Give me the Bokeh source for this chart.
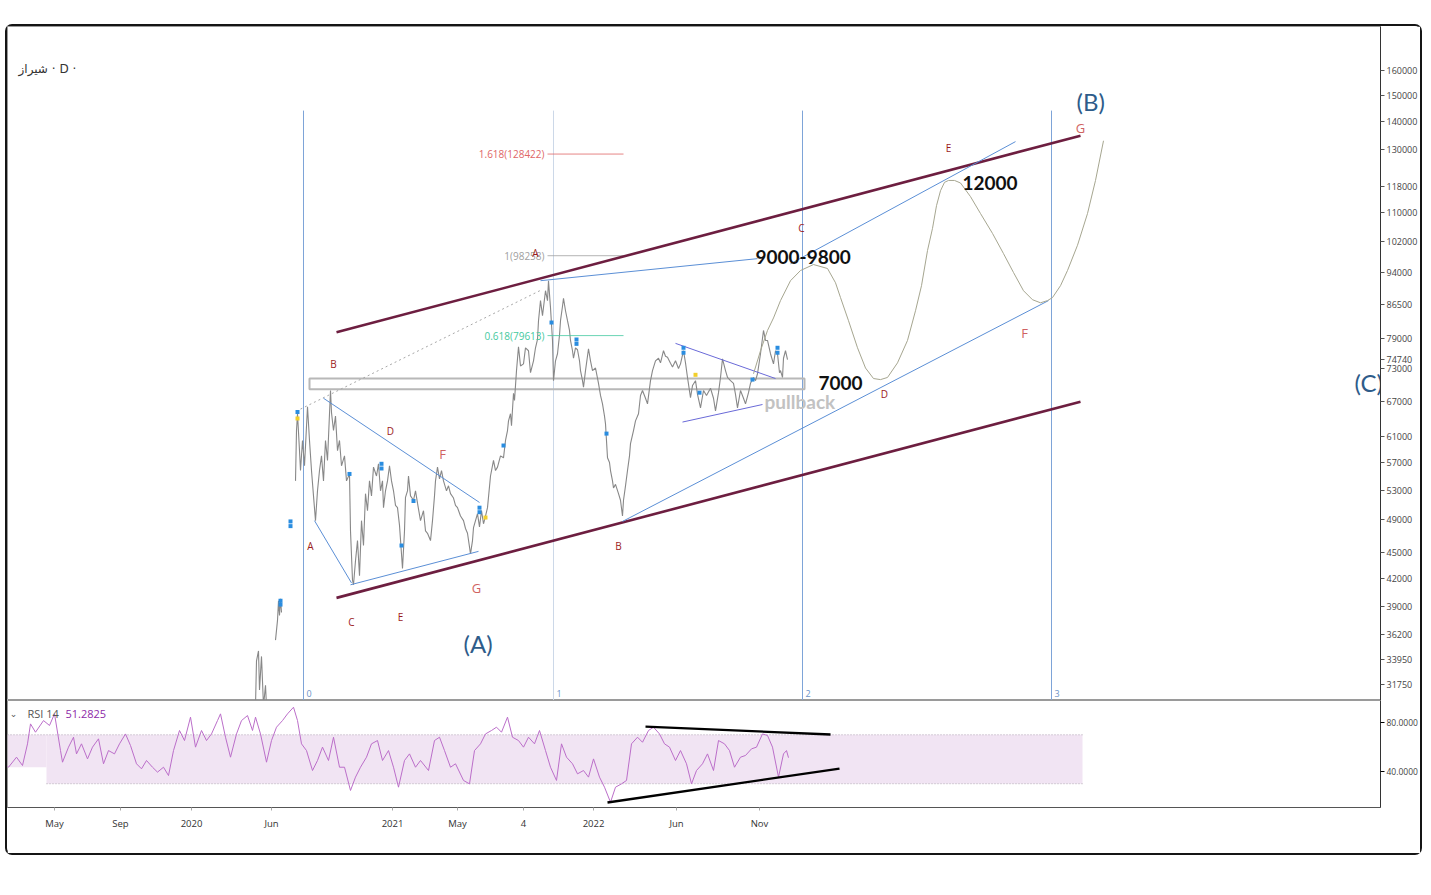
from bokeh.plotting import figure
from bokeh.models import Range1d, FixedTicker, NumeralTickFormatter
from bokeh.layouts import column
from bokeh.embed import file_html
from bokeh.resources import INLINE
from bokeh.core.properties import value

nan = float("nan")

# ---------------- price path (bar position, close in rials) ----------------
bar_x = [255, 256, 258, 259, 261, 263, 265, 266, 270,
         275, 277, 278, 279, 280, 281, 288,
         295, 296, 297, 299, 300, 302, 304, 307, 309, 311, 313, 315, 317, 319, 321, 323, 325, 327,
         330, 331, 333, 335, 337, 339, 341, 344, 346, 349, 350, 352, 353, 355, 357, 359, 361, 363,
         365, 367, 369, 371, 373, 376, 378, 380, 382, 383, 385, 387, 389, 391, 393, 395, 397, 399,
         402, 404, 405, 407, 408, 410, 413, 415, 417, 420, 423, 425, 427, 430, 432, 434, 435, 437,
         439, 441, 443, 446, 448, 450, 453, 455, 457, 460, 463, 465, 467, 470, 472, 473, 475, 477,
         479, 481, 483, 485, 487, 490, 493, 495, 497, 500, 503, 505, 507, 508, 510, 511, 513, 514,
         516, 518, 520, 523, 525, 528, 530, 533, 535, 537, 538, 540, 542, 545, 547, 548, 550, 552,
         553, 555, 557, 559, 560, 562, 563, 565, 567, 569, 570, 572, 573, 575, 577, 579, 580, 582,
         583, 585, 588, 590, 592, 595, 598, 600, 602, 604, 605, 607, 609, 610, 612, 613, 615, 618,
         620, 622, 623, 625, 627, 629, 630, 633, 635, 638, 640, 642, 645, 647, 650, 652, 655, 658,
         660, 663, 665, 667, 670, 672, 675, 678, 680, 683, 685, 687, 690, 692, 695, 697, 700, 703,
         706, 710, 713, 715, 718, 720, 722, 725, 727, 730, 733, 735, 737, 740, 743, 745, 748, 750,
         753, 755, 757, 760, 763, 765, 767, 770, 773, 775, 777, 779, 780, 782, 783, 785, 787]
close = [30000, 33800, 34700, 31300, 34200, 30000, 31700, 30000, nan,
         35700, 37600, 39600, 38100, 39800, 38400, nan,
         54300, 62000, 64800, 58800, 55800, 60400, 56500, 66000, 60400, 55800, 52200, 48900, 52900, 55800, 58000, 54300, 60400, 57300,
         68900, 65000, 62000, 64400, 58800, 60400, 56500, 58000, 54300, 55300, 47600, 41800, 41300, 44000, 46400, 42300, 48900, 45800,
         52500, 50200, 54300, 52200, 56300, 55000, 56800, 52900, 54300, 50600, 52900, 54300, 56500, 54300, 52900, 50900, 50600, 48300,
         43100, 47600, 52000, 52900, 55000, 52200, 51600, 52900, 51200, 48900, 50200, 47600, 47300, 46400, 48900, 52200, 54300, 56300,
         54600, 55800, 54300, 52900, 53600, 52500, 51900, 50900, 50600, 49500, 48900, 47900, 47300, 44800, 46400, 48000, 48900, 49800,
         48100, 50200, 48500, 49500, 50600, 55000, 57300, 55800, 56300, 58000, 57700, 60400, 62000, 63600, 64800, 62800, 68400, 67100,
         72600, 77300, 73500, 73900, 77100, 76500, 72200, 74500, 77100, 78800, 82800, 87300, 83900, 89600, 87300, 92000, 85700, 78600,
         70700, 74500, 75900, 79700, 82800, 86000, 87800, 85000, 82800, 80700, 78600, 76500, 75000, 77100, 76700, 74500, 72600, 70700,
         69500, 72600, 76900, 74500, 72600, 73100, 70200, 68000, 66500, 64400, 63100, 57700, 57000, 55800, 54300, 53300, 53800, 52500,
         51600, 49500, 51600, 53600, 55800, 58000, 59900, 62000, 63600, 64800, 68000, 68900, 67500, 66500, 70700, 72600, 74500, 75000,
         74100, 76500, 75400, 75200, 74000, 73300, 74500, 73000, 73900, 76500, 74100, 71300, 67600, 69800, 70700, 68200, 65800, 68900,
         68000, 69300, 67500, 65300, 68500, 71300, 74900, 72600, 71300, 70700, 70200, 68200, 65800, 68900, 67500, 66500, 68500, 70200,
         71300, 70700, 72000, 75900, 80700, 78600, 78600, 75900, 73900, 76500, 75900, 72200, 72600, 71300, 75000, 76500, 74740]
last_price = 74740
symbol_title = "شیراز · D ·"

price_ticks = [160000, 150000, 140000, 130000, 118000, 110000, 102000, 94000, 86500, 79000, 73000,
               67000, 61000, 57000, 53000, 49000, 45000, 42000, 39000, 36200, 33950, 31750]

date_tick_pos = [54, 120, 191, 271, 392, 457, 523, 593, 676, 759]
date_tick_lbl = ["May", "Sep", "2020", "Jun", "2021", "May", "4", "2022", "Jun", "Nov"]

# ---------------- RSI 14 ----------------
rsi_x = [0, 8, 16, 22, 27, 30, 35, 43, 49, 54, 60, 62, 68, 73, 76, 81, 87, 92, 98, 103, 108, 114, 119,
         125, 130, 136, 141, 146, 152, 157, 163, 168, 173, 179, 184, 190, 195, 201, 206, 211, 217, 220,
         225, 230, 236, 241, 247, 252, 255, 260, 266, 271, 276, 282, 287, 293, 297, 301, 306, 312, 317,
         322, 328, 333, 339, 344, 350, 355, 360, 366, 371, 377, 382, 388, 393, 398, 404, 409, 415, 420,
         428, 434, 439, 444, 450, 455, 463, 469, 474, 480, 485, 491, 496, 501, 507, 512, 518, 523, 528,
         534, 539, 545, 550, 556, 561, 566, 572, 577, 583, 588, 593, 599, 604, 610, 615, 621, 626, 631,
         637, 642, 648, 653, 659, 664, 669, 675, 680, 686, 691, 696, 702, 707, 713, 718, 724, 729, 734,
         740, 745, 751, 756, 762, 767, 772, 778, 783, 786, 788]
rsi_v = [49.0, 43.5, 51.7, 44.9, 62.6, 78.9, 72.1, 81.6, 77.6, 87.1, 57.1, 47.6, 59.9, 68.0, 54.4, 62.6, 50.3, 59.9, 66.7, 46.3, 57.1, 54.4, 62.6,
         70.7, 61.2, 46.3, 42.2, 49.0, 43.5, 39.5, 43.5, 36.7, 57.1, 73.5, 65.3, 84.4, 59.9, 73.5, 65.3, 70.7, 81.6, 87.1,
         68.0, 51.7, 70.7, 81.6, 85.7, 73.5, 84.4, 70.7, 47.6, 65.3, 76.2, 81.6, 87.1, 92.5, 81.6, 62.6, 57.1, 40.8, 49.0,
         59.9, 49.0, 68.0, 43.5, 43.5, 24.5, 35.4, 43.5, 51.7, 62.6, 65.3, 49.0, 57.1, 43.5, 27.2, 49.0, 54.4, 43.5, 49.0,
         40.8, 65.3, 68.0, 57.1, 43.5, 46.3, 32.7, 29.9, 57.1, 62.6, 70.7, 73.5, 76.2, 72.1, 84.4, 68.0, 65.3, 59.9, 68.0,
         62.6, 73.5, 57.1, 43.5, 32.7, 62.6, 51.7, 46.3, 38.1, 40.8, 35.4, 50.3, 35.4, 27.2, 14.9, 27.2, 29.9, 32.7, 62.6,
         68.0, 63.9, 73.5, 76.2, 70.7, 62.6, 59.9, 49.0, 57.1, 46.3, 29.9, 40.8, 46.3, 54.4, 40.8, 65.3, 62.6, 57.1, 43.5,
         51.7, 53.1, 58.5, 59.9, 70.7, 69.4, 59.9, 35.4, 54.4, 57.1, 51.3]
rsi_last = "51.2825"
rsi_ticks = [80, 40]
rsi_upper, rsi_lower = 70, 30

# RSI triangle
rsi_tl_x0 = [645, 607]
rsi_tl_y0 = [76.7, 14.7]
rsi_tl_x1 = [830, 839]
rsi_tl_y1 = [70.2, 42.4]

# ---------------- drawings ----------------
fib_lbl = ["1.618(128422)", "1(98258)", "0.618(79613)"]
fib_price = [128422, 98258, 79613]
fib_colors = ["#e06666", "#a0a0a0", "#45c9a0"]

fib_time_x = [303, 553, 802, 1051]
fib_time_lbl = ["0", "1", "2", "3"]
fib_time_colors = ["#7ea4d8", "#ccd8e8", "#7ea4d8", "#7ea4d8"]

chan_x0 = [336, 336]
chan_y0 = [80300, 39900]
chan_x1 = [1080, 1080]
chan_y1 = [134800, 66900]

tl_x0 = [540, 790, 622, 314, 350, 323]
tl_y0 = [92000, 96200, 48800, 48900, 41300, 67500]
tl_x1 = [757, 1015, 1048, 351, 478, 479]
tl_y1 = [97500, 132700, 87300, 41500, 45100, 51300]

tri_x0 = [675, 682]
tri_y0 = [78000, 63400]
tri_x1 = [775, 762]
tri_y1 = [71100, 66400]

dotted_x = [300, 541]
dotted_y = [65600, 89800]

zone_left, zone_right, zone_bottom, zone_top = 309, 804, 69100, 71100

proj_x = [753, 760, 767, 773, 780, 790, 800, 813, 827, 835, 840, 848, 857, 865, 873, 880, 887, 897, 907, 915,
          921, 927, 932, 936, 940, 944, 948, 954, 960, 970, 980, 992, 1003, 1013, 1023, 1032, 1040, 1047, 1052,
          1060, 1067, 1077, 1087, 1095, 1103]
proj_y = [72000, 76500, 80700, 83400, 87300, 92000, 94500, 96000, 95000, 91500, 88000, 82800, 77100, 73100, 71100,
          70900, 71300, 74100, 78600, 85000, 90800, 99600, 105600, 112100, 116600, 119200, 119800, 119800, 119000,
          114800, 109800, 104200, 98800, 94000, 89600, 87500, 86800, 87300, 88000, 90800, 94500, 101000, 109800,
          119800, 133000]

wave_x = [333, 390, 310, 351, 400, 618, 535, 801, 884, 948]
wave_y = [73900, 62000, 45800, 37400, 37900, 45800, 98900, 105800, 68200, 130600]
wave_t = ["B", "D", "A", "C", "E", "B", "A", "C", "D", "E"]
wave2_x = [442, 476, 1024, 1080]
wave2_y = [58300, 41000, 80100, 137700]
wave2_t = ["F", "G", "F", "G"]

target_x = [755, 962, 818]
target_y = [98000, 118900, 70300]
target_t = ["9000-9800", "12000", "7000"]
pull_x, pull_y, pull_t = [764], [66900], ["pullback"]

degree_x = [463, 1076, 1354]
degree_y = [35400, 147400, 70300]
degree_t = ["(A)", "(B)", "(C)"]

blue_dot_x = [280, 280, 290, 290, 297, 349, 381, 381, 401, 413, 479, 479, 503, 551, 576, 576, 606, 683, 683, 699, 752, 777, 777]
blue_dot_y = [39600, 39200, 48800, 48200, 65100, 55300, 56800, 56100, 45800, 51500, 50600, 50000, 59600, 82400, 78800,
              77900, 61500, 77100, 76100, 68500, 70900, 77100, 76100]
yel_dot_x = [297, 485, 695]
yel_dot_y = [64000, 49300, 71800]

# ---------------- main price pane ----------------
p = figure(frame_width=1373, frame_height=674, x_range=Range1d(7, 1380), y_range=Range1d(30450, 179700),
           y_axis_type="log", y_axis_location="right", x_axis_location=None,
           output_backend="svg", toolbar_location=None,
           min_border_left=0, min_border_top=0, min_border_bottom=0, min_border_right=0)
p.grid.visible = False
p.outline_line_color = "#9a9a9a"
p.background_fill_color = "white"
p.yaxis.ticker = FixedTicker(ticks=price_ticks + [last_price])
p.yaxis.formatter = NumeralTickFormatter(format="0")
p.yaxis.minor_tick_line_color = None
p.yaxis.major_tick_out = 4
p.yaxis.major_tick_in = 0
p.yaxis.major_label_standoff = 2
p.yaxis.axis_line_color = "#333333"
p.yaxis.major_tick_line_color = "#555555"
p.yaxis.major_label_text_font = "Open Sans"
p.yaxis.major_label_text_font_size = "9px"
p.yaxis.major_label_text_color = "#444444"

# fib time zones
for fx, fc in zip(fib_time_x, fib_time_colors):
    p.segment(x0=[fx], y0=[144000], x1=[fx], y1=[30000], line_color=fc, line_width=1)
p.text(x=[v + 3 for v in fib_time_x], y=[30700] * 4, text=fib_time_lbl, text_color="#6d93c7",
       text_font=value("Open Sans"), text_font_size="9px", text_baseline="bottom")

# support zone
p.quad(left=[zone_left], right=[zone_right], bottom=[zone_bottom], top=[zone_top],
       fill_color=None, line_color="#b8b8b8", line_width=2)

# price
p.line(bar_x, close, line_color="#888888", line_width=1.1)

# fib retracement levels
for fp, fc, fl in zip(fib_price, fib_colors, fib_lbl):
    p.segment(x0=[547], y0=[fp], x1=[623], y1=[fp], line_color=fc, line_width=1, line_alpha=0.8)
    p.text(x=[544], y=[fp], text=[fl], text_color=fc, text_align="right", text_baseline="middle",
           text_font=value("Open Sans"), text_font_size="10px")

p.line(dotted_x, dotted_y, line_color="#a8a8a8", line_dash="2 3", line_width=1)

# channel
p.segment(x0=chan_x0, y0=chan_y0, x1=chan_x1, y1=chan_y1, line_color="#6d1e40", line_width=2.6)
# trend lines
p.segment(x0=tl_x0, y0=tl_y0, x1=tl_x1, y1=tl_y1, line_color="#5b8fd6", line_width=1)
p.segment(x0=tri_x0, y0=tri_y0, x1=tri_x1, y1=tri_y1, line_color="#6a6ad8", line_width=1)

# projection path
p.line(proj_x, proj_y, line_color="#a6a690", line_width=1)

# markers
p.scatter(blue_dot_x, blue_dot_y, marker="square", size=4, fill_color="#2a8de0", line_color=None)
p.scatter(yel_dot_x, yel_dot_y, marker="square", size=4, fill_color="#f2cf2b", line_color=None)

# wave labels
p.text(x=wave_x, y=wave_y, text=wave_t, text_color="#9b1c1c", text_align="center", text_baseline="middle",
       text_font=value("Open Sans"), text_font_size="10px")
p.text(x=wave2_x, y=wave2_y, text=wave2_t, text_color="#d06262", text_align="center", text_baseline="middle",
       text_font=value("Open Sans"), text_font_size="13px")

p.text(x=target_x, y=target_y, text=target_t, text_color="#111111", text_baseline="middle",
       text_font=value("Lato"), text_font_style="bold", text_font_size="19px")
p.text(x=pull_x, y=pull_y, text=pull_t, text_color="#c2c2c2", text_baseline="middle",
       text_font=value("Lato"), text_font_style="bold", text_font_size="19px")
p.text(x=degree_x, y=degree_y, text=degree_t, text_color="#2e5c8a", text_baseline="middle",
       text_font=value("Lato"), text_font_size="24px")

p.text(x=[18], y=[160800], text=[symbol_title], text_color="#333333", text_baseline="middle",
       text_font=value("DejaVu Sans"), text_font_size="12px")

# ---------------- RSI pane ----------------
r = figure(frame_width=1373, frame_height=107, x_range=p.x_range, y_range=Range1d(10.6, 98.0),
           y_axis_location="right", output_backend="svg", toolbar_location=None,
           min_border_left=0, min_border_top=0, min_border_bottom=46, min_border_right=0)
r.grid.visible = False
r.outline_line_color = "#9a9a9a"
r.yaxis.ticker = FixedTicker(ticks=rsi_ticks)
r.yaxis.major_label_overrides = {80: "80.0000", 40: "40.0000"}
r.yaxis.minor_tick_line_color = None
r.yaxis.major_tick_out = 4
r.yaxis.major_tick_in = 0
r.yaxis.major_label_standoff = 2
r.yaxis.axis_line_color = "#333333"
r.yaxis.major_label_text_font = "Open Sans"
r.yaxis.major_label_text_font_size = "8.5px"
r.yaxis.major_label_text_color = "#444444"

r.xaxis.ticker = FixedTicker(ticks=date_tick_pos)
r.xaxis.major_label_overrides = dict(zip(date_tick_pos, date_tick_lbl))
r.xaxis.minor_tick_line_color = None
r.xaxis.major_tick_out = 3
r.xaxis.major_tick_in = 0
r.xaxis.major_tick_line_color = "#aaaaaa"
r.xaxis.axis_line_color = "#555555"
r.xaxis.major_label_standoff = 6
r.xaxis.major_label_text_font = "Open Sans"
r.xaxis.major_label_text_font_size = "9.5px"
r.xaxis.major_label_text_color = "#333333"

r.quad(left=[46], right=[1082], bottom=[rsi_lower], top=[rsi_upper], fill_color="#f1e4f3", line_color=None)
r.quad(left=[7], right=[46], bottom=[43.5], top=[rsi_upper], fill_color="#f1e4f3", line_color=None)
r.segment(x0=[7, 46], y0=[rsi_upper, rsi_lower], x1=[1082, 1082], y1=[rsi_upper, rsi_lower],
          line_color="#b0a8b4", line_dash="1 2", line_width=1)
r.line(rsi_x, rsi_v, line_color="#bb6ec9", line_width=1)
r.segment(x0=rsi_tl_x0, y0=rsi_tl_y0, x1=rsi_tl_x1, y1=rsi_tl_y1, line_color="black", line_width=2.4)

r.text(x=[13], y=[87.3], text=["⌄"], text_color="#555555", text_align="center", text_baseline="middle",
       text_font=value("DejaVu Sans"), text_font_size="9px")
r.text(x=[27], y=[87.3], text=["RSI 14"], text_color="#555555", text_baseline="middle",
       text_font=value("Open Sans"), text_font_size="11px")
r.text(x=[65], y=[87.3], text=[rsi_last], text_color="#8e2aa8", text_baseline="middle",
       text_font=value("Open Sans"), text_font_size="11px")

layout = column(p, r, margin=(24, 0, 0, 5),
                styles={"border": "2px solid #151515", "border-radius": "7px"})

open("out.html", "w").write(file_html(layout, INLINE))
